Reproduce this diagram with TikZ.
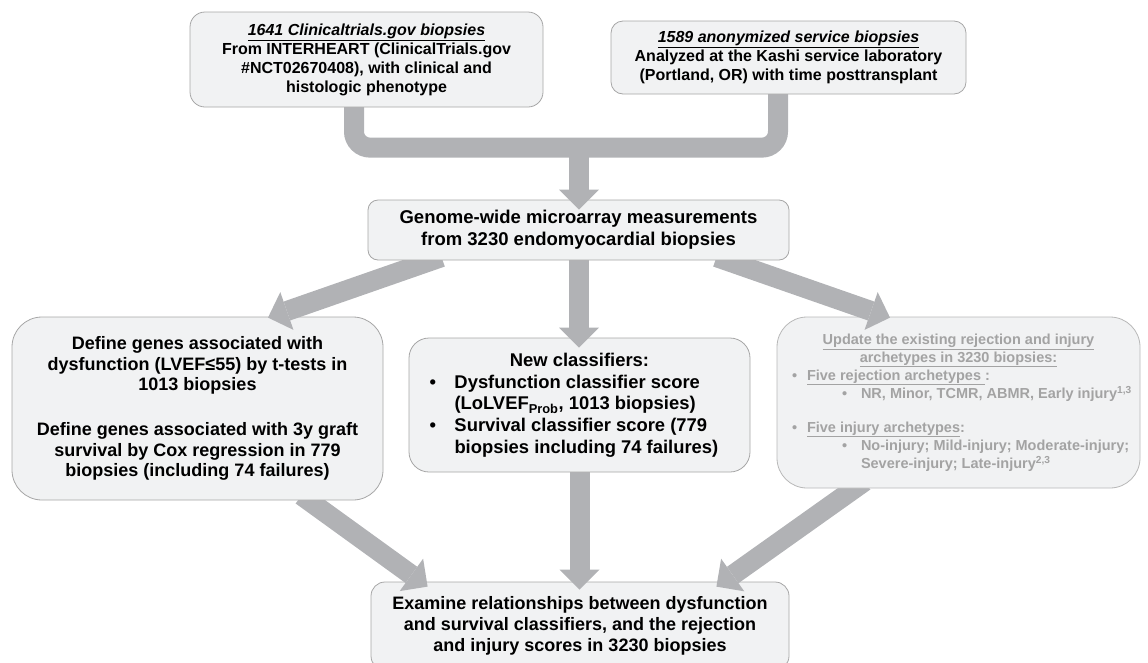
\documentclass[tikz,border=0pt]{standalone}
\usepackage{fontspec}
\setmainfont{Liberation Sans}
\usetikzlibrary{arrows.meta,calc}
\definecolor{boxfill}{HTML}{F1F2F3}
\definecolor{boxline}{HTML}{A6A6A6}
\definecolor{softline}{HTML}{B8B8B8}
\definecolor{arrowgray}{HTML}{B1B2B5}
\definecolor{softtext}{HTML}{A3A3A3}
\pgfdeclarelayer{lA}\pgfdeclarelayer{lB}\pgfdeclarelayer{lC}
\pgfdeclarelayer{lD}\pgfdeclarelayer{lE}\pgfdeclarelayer{lF}
\pgfsetlayers{lA,lB,lC,lD,lE,lF,main}
\newcommand\bulA[1]{\par\hangindent=25pt\hangafter=1\noindent\makebox[25pt][l]{\hspace{10pt}\textbullet}#1\par}
\newcommand\bulB[1]{\par\hangindent=79pt\hangafter=1\noindent\makebox[79pt][l]{\hspace{60pt}\textbullet}#1\par}
\newcommand\bulC[1]{\par\hangindent=35pt\hangafter=1\noindent\makebox[35pt][l]{\hspace{10pt}\textbullet}#1\par}
\begin{document}
\begin{tikzpicture}[x=1pt,y=-1pt,
  box/.style={draw=boxline, fill=boxfill, line width=0.8pt, rounded corners=#1, inner sep=0pt},
  box/.default=12pt,
  flow/.style={draw=arrowgray, line width=20pt, -{Triangle[width=40pt,length=20pt,line width=0pt]}},
  bar/.style={draw=arrowgray, line width=20pt, rounded corners=16pt},
  bigtext/.style={font=\bfseries\fontsize{18}{21.3}\selectfont},
  smalltext/.style={font=\bfseries\fontsize{16}{19}\selectfont},
]
\useasboundingbox (0,0) rectangle (1148,662);

% bottom box
\begin{pgfonlayer}{lA}
\node[box=14pt, minimum width=418pt, minimum height=88pt, bigtext, align=center] (b7) at (580,626)
 {Examine relationships between dysfunction\\and survival classifiers, and the rejection\\and injury scores in 3230 biopsies};
\end{pgfonlayer}

% middle row boxes
\begin{pgfonlayer}{lC}
\node[box=30pt, minimum width=371pt, minimum height=183pt, font=\bfseries\fontsize{18}{20.7}\selectfont, align=center] (b4) at (197.5,408.5)
 {Define genes associated with\\dysfunction (LVEF≤55) by t-tests in\\1013 biopsies\\[24pt]Define genes associated with 3y graft\\survival by Cox regression in 779\\biopsies (including 74 failures)};
\node[box=20pt, minimum width=341pt, minimum height=134pt, font=\bfseries\fontsize{18.4}{21.7}\selectfont] (b5) at (579.5,405)
 {\parbox{320pt}{\centering New classifiers:\par\raggedright
  \bulC{Dysfunction classifier score\newline(LoLVEF\textsubscript{Prob}, 1013 biopsies)}
  \bulC{Survival classifier score (779\newline biopsies including 74 failures)}}};
\node[box=30pt, draw=softline, text=softtext, minimum width=363pt, minimum height=171pt, font=\bfseries\fontsize{14.5}{18}\selectfont] (b6) at (958.5,402.5)
 {\parbox{353pt}{\centering\underline{Update the existing rejection and injury}\\\underline{archetypes in 3230 biopsies:}\par\raggedright
  \bulA{\underline{Five rejection archetypes }:}
  \bulB{NR, Minor, TCMR, ABMR, Early injury\textsuperscript{1,3}}
  \vspace{16pt}
  \bulA{\underline{Five injury archetypes}:}
  \bulB{No-injury; Mild-injury; Moderate-injury;\newline Severe-injury; Late-injury\textsuperscript{2,3}}}};
\end{pgfonlayer}

% arrows into the bottom box
\begin{pgfonlayer}{lB}
\draw[flow] ($(b4.south)+(104,-5)$) -- ($(b7.north west)+(57,5)$);
\draw[flow] ($(b5.south)+(0,-5)$) -- ($(b5.south |- b7.north)+(0,8)$);
\draw[flow] ($(b6.south)+(-94,-7)$) -- ($(b7.north east)+(-73,5)$);
\end{pgfonlayer}

% genome box
\begin{pgfonlayer}{lE}
\node[box=10pt, minimum width=421pt, minimum height=60pt, font=\bfseries\fontsize{18.5}{22}\selectfont, align=center] (b3) at (578.5,230)
 {Genome-wide microarray measurements\\from 3230 endomyocardial biopsies};
\end{pgfonlayer}

% arrows out of the genome box
\begin{pgfonlayer}{lD}
\draw[flow] ($(b3.south)+(-137,-3.3)$) -- ($(b4.north)+(70.5,1)$);
\draw[flow] ($(b3.south)+(0.5,-5)$) -- ($(b3.south |- b5.north)+(0.5,10)$);
\draw[flow] ($(b3.south)+(138,-3.3)$) -- ($(b6.north)+(-68.5,1)$);
\end{pgfonlayer}

% top boxes
\node[box=15pt, minimum width=353pt, minimum height=95pt, smalltext, align=center] (b1) at (366.5,59.5)
 {\underline{\textit{1641 Clinicaltrials.gov biopsies}}\\From INTERHEART (ClinicalTrials.gov\\\#NCT02670408), with clinical and\\histologic phenotype};
\node[box=12pt, minimum width=355pt, minimum height=73pt, smalltext, align=center] (b2) at (788.5,57.5)
 {\underline{\textit{1589 anonymized service biopsies}}\\Analyzed at the Kashi service laboratory\\(Portland, OR) with time posttransplant};

% bracket joining the two sources
\begin{pgfonlayer}{lF}
\coordinate (jn) at ($(b3.north)+(0.5,-52)$);
\draw[bar] ($(b1.south)+(-12.5,-5)$) |- (jn) -| ($(b2.south)+(-10.5,-5)$);
\draw[flow] (jn) -- ($(b3.north)+(0.5,10)$);
\end{pgfonlayer}
\end{tikzpicture}
\end{document}
